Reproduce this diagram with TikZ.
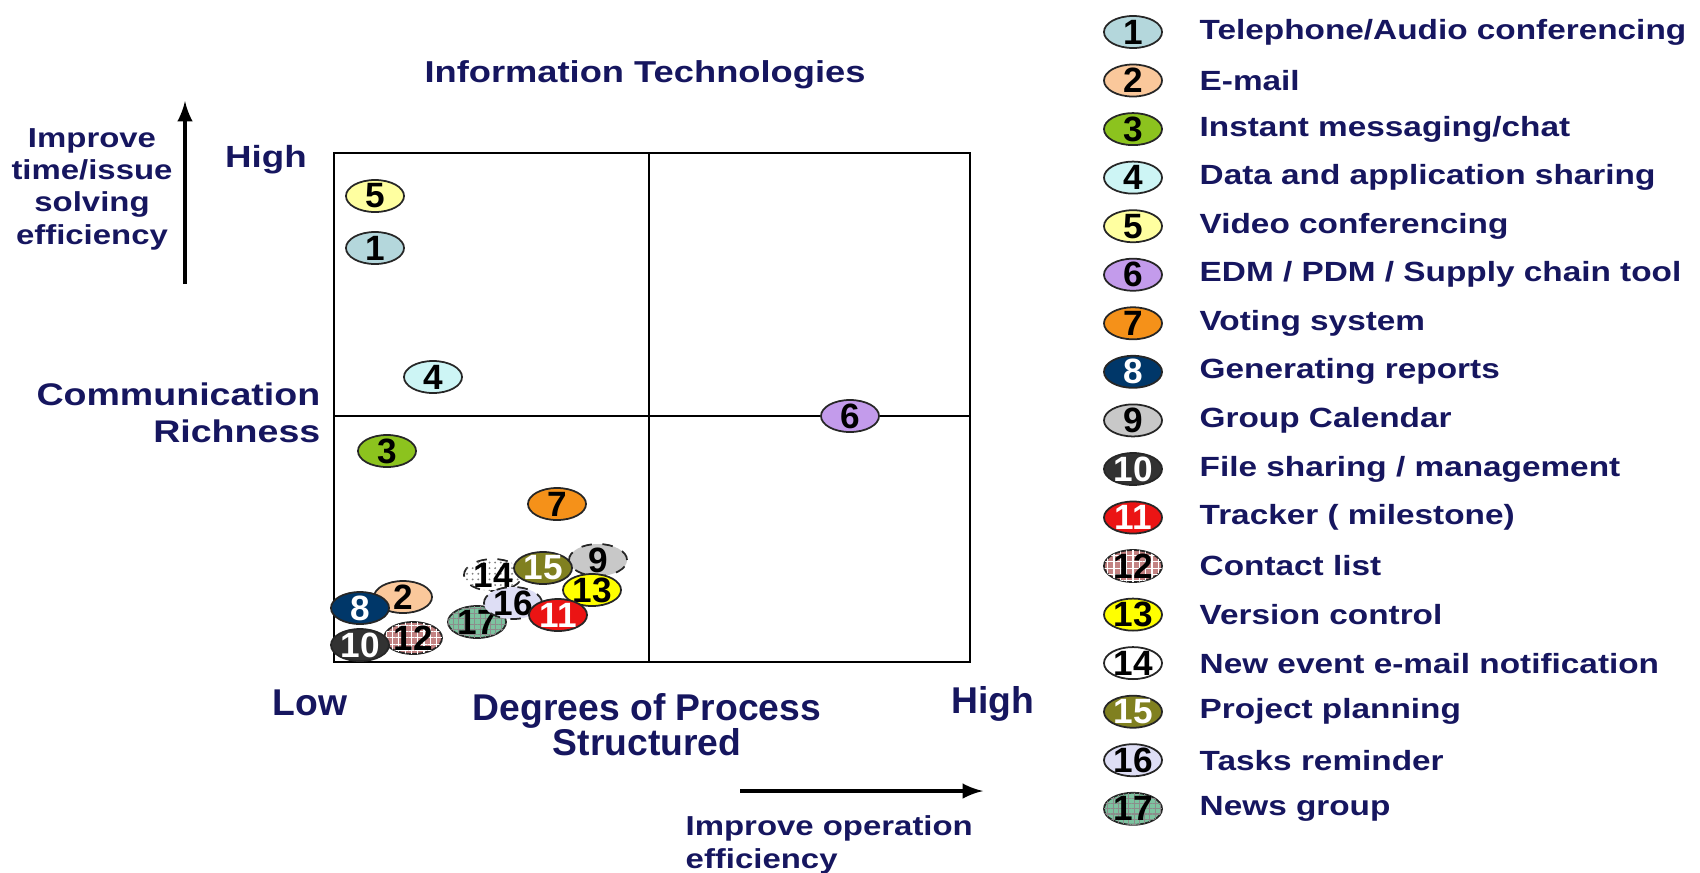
\documentclass[tikz,border=0pt]{standalone}
\usepackage{fontspec}
\setmainfont{Liberation Sans}[FakeStretch=1.2]
\newfontfamily\plainsans{Liberation Sans}
\usetikzlibrary{shapes.geometric,patterns.meta}

\definecolor{txtblue}{RGB}{22,22,95}
\definecolor{c1}{RGB}{180,215,220}
\definecolor{c2}{RGB}{250,200,155}
\definecolor{c3}{RGB}{140,195,30}
\definecolor{c4}{RGB}{205,245,245}
\definecolor{c5}{RGB}{255,255,160}
\definecolor{c6}{RGB}{195,155,235}
\definecolor{c7}{RGB}{245,145,25}
\definecolor{c8}{RGB}{0,55,105}
\definecolor{c9}{RGB}{200,200,200}
\definecolor{c10}{RGB}{50,50,50}
\definecolor{c11}{RGB}{235,20,20}
\definecolor{c12}{RGB}{195,130,130}
\definecolor{c13}{RGB}{255,255,0}
\definecolor{c15}{RGB}{128,128,32}
\definecolor{c16}{RGB}{222,222,245}
\definecolor{c17}{RGB}{125,195,160}

\begin{document}
\begin{tikzpicture}[x=0.01cm,y=-0.01cm]
\tikzstyle{every node}=[text=txtblue]
\tikzstyle{bub}=[ellipse,draw=black!85,line width=.5pt,minimum width=.58cm,minimum height=.32cm,inner xsep=-1pt,inner ysep=-1pt,text=black,font=\plainsans\bfseries\fontsize{10}{10}\selectfont]
\tikzstyle{wbub}=[bub,text=white]
\tikzstyle{dbub}=[bub,dashed]
\tikzstyle{brick}=[postaction={pattern={Hatch[angle=0,distance=1.8pt,line width=.35pt]},pattern color=white}]
\tikzstyle{mesh}=[postaction={pattern={Hatch[angle=0,distance=1.5pt,line width=.3pt]},pattern color=black!45}]
\tikzstyle{dotty}=[postaction={pattern={Dots[distance=1.6pt,radius=.3pt]},pattern color=black!50}]
\tikzstyle{lab}=[anchor=west,inner sep=0pt,font=\bfseries\fontsize{7.9}{9}\selectfont]
\tikzstyle{side}=[align=center,inner sep=0pt,font=\bfseries\fontsize{7.8}{9.2}\selectfont]
\tikzstyle{big}=[inner sep=0pt,font=\plainsans\bfseries\fontsize{10.6}{10}\selectfont]
\useasboundingbox (0,0) rectangle (1700,872);

%quadrant box
\draw [line width=.6pt] (334,153) rectangle (970,662);
\draw [line width=.6pt] (649,153) -- (649,662);
\draw [line width=.6pt] (334,416) -- (970,416);

%titles
\node [inner sep=0pt,font=\bfseries\fontsize{8.6}{10}\selectfont] (title) at (645,75) {Information Technologies};
\node [inner sep=0pt,font=\bfseries\fontsize{8.7}{10}\selectfont] (hightop) at (266,160) {High};
\node [inner sep=0pt,anchor=east,align=right,font=\bfseries\fontsize{8.9}{10.6}\selectfont] (rich) at (321,413) {Communication\\Richness};
\node [side] (timeeff) at (92,189) {Improve\\time/issue\\solving\\efficiency};
\node [big] (low) at (310,703) {Low};
\node [big,align=center] (degree) at (647,725) {Degrees of Process\\Structured};
\node [big] (highbot) at (993,704) {High};
\node [side,anchor=west,align=left] (opeff) at (685,845) {Improve operation\\efficiency};

%arrows
\coordinate (va) at (185,284);
\coordinate (vb) at (185,101);
\coordinate (ha) at (740,791);
\coordinate (hb) at (983,791);
\draw [-latex,line width=1pt] (va) -- (vb);
\draw [-latex,line width=1pt] (ha) -- (hb);

%bubbles in the chart
\node [bub,fill=c5] (t5) at (375,196) {5};
\node [bub,fill=c1] (t1) at (375,248) {1};
\node [bub,fill=c4] (t4) at (433,377) {4};
\node [bub,fill=c3] (t3) at (387,451) {3};
\node [bub,fill=c6] (t6) at (850,416) {6};
\node [bub,fill=c7] (t7) at (557,504) {7};
\node [dbub,fill=white,dotty] (t14) at (493,575) {14};
\node [dbub,fill=c9] (t9) at (598,560) {9};
\node [wbub,fill=c15] (t15) at (543,568) {15};
\node [bub,fill=c13] (t13) at (592,590) {13};
\node [bub,fill=c17,mesh] (t17) at (477,622) {17};
\node [dbub,fill=c16] (t16) at (513,603) {16};
\node [wbub,fill=c11] (t11) at (558,615) {11};
\node [bub,fill=c2] (t2) at (403,597) {2};
\node [wbub,fill=c8] (t8) at (360,608) {8};
\node [bub,fill=c12,brick] (t12) at (413,638) {12};
\node [wbub,fill=c10] (t10) at (360,645) {10};

%legend
\node [bub,fill=c1] (k1) at (1133,32) {1};
\node [bub,fill=c2] (k2) at (1133,80.5) {2};
\node [bub,fill=c3] (k3) at (1133,129.1) {3};
\node [bub,fill=c4] (k4) at (1133,177.6) {4};
\node [bub,fill=c5] (k5) at (1133,226.2) {5};
\node [bub,fill=c6] (k6) at (1133,274.7) {6};
\node [bub,fill=c7] (k7) at (1133,323.3) {7};
\node [wbub,fill=c8] (k8) at (1133,371.8) {8};
\node [bub,fill=c9] (k9) at (1133,420.4) {9};
\node [wbub,fill=c10] (k10) at (1133,469) {10};
\node [wbub,fill=c11] (k11) at (1133,517.5) {11};
\node [bub,fill=c12,brick] (k12) at (1133,566) {12};
\node [bub,fill=c13] (k13) at (1133,614.6) {13};
\node [bub,fill=white] (k14) at (1133,663.1) {14};
\node [wbub,fill=c15] (k15) at (1133,711.7) {15};
\node [bub,fill=c16] (k16) at (1133,760.2) {16};
\node [bub,fill=c17,mesh] (k17) at (1133,808.8) {17};

\node [lab] (l1) at (1199,32) {Telephone/Audio conferencing};
\node [lab] (l2) at (1199,80.5) {E-mail};
\node [lab] (l3) at (1199,129.1) {Instant messaging/chat};
\node [lab] (l4) at (1199,177.6) {Data and application sharing};
\node [lab] (l5) at (1199,226.2) {Video conferencing};
\node [lab] (l6) at (1199,274.7) {EDM / PDM / Supply chain tool};
\node [lab] (l7) at (1199,323.3) {Voting system};
\node [lab] (l8) at (1199,371.8) {Generating reports};
\node [lab] (l9) at (1199,420.4) {Group Calendar};
\node [lab] (l10) at (1199,469) {File sharing / management};
\node [lab] (l11) at (1199,517.5) {Tracker ( milestone)};
\node [lab] (l12) at (1199,566) {Contact list};
\node [lab] (l13) at (1199,614.6) {Version control};
\node [lab] (l14) at (1199,663.1) {New event e-mail notification};
\node [lab] (l15) at (1199,711.7) {Project planning};
\node [lab] (l16) at (1199,760.2) {Tasks reminder};
\node [lab] (l17) at (1199,808.8) {News group};
\end{tikzpicture}
\end{document}
